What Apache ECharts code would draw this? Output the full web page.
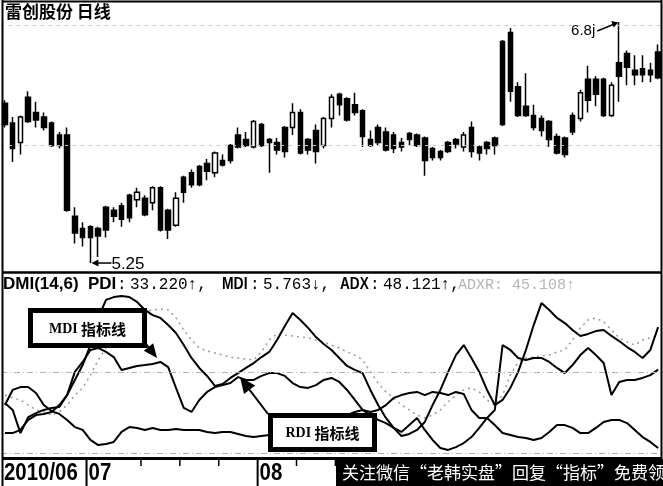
<!DOCTYPE html>
<html><head><meta charset="utf-8">
<script src="https://cdn.jsdelivr.net/npm/echarts@6/dist/echarts.min.js"></script>
<style>html,body{margin:0;padding:0;background:#fff}#c{width:663px;height:486px}</style>
</head><body><div id="c"></div>
<script>
const dates = ['06-11','06-17','06-18','06-21','06-22','06-23','06-24','06-25','06-28','06-29','06-30',
'07-01','07-02','07-05','07-06','07-07','07-08','07-09','07-12','07-13','07-14','07-15','07-16','07-19','07-20','07-21','07-22','07-23','07-26','07-27','07-28','07-29','07-30',
'08-02','08-03','08-04','08-05','08-06','08-09','08-10','08-11','08-12','08-13','08-16','08-17','08-18','08-19','08-20','08-23','08-24','08-25','08-26','08-27','08-30','08-31',
'09-01','09-02','09-03','09-06','09-07','09-08','09-09','09-10','09-13','09-14','09-15','09-16','09-17','09-20','09-21','09-27','09-28','09-29','09-30',
'10-08','10-11','10-12','10-13','10-14','10-15','10-18','10-19','10-20','10-21','10-22'];
const opens = [6.31,6.18,6.05,6.35,6.25,6.22,6.18,6.10,6.10,5.56,5.48,5.49,5.48,5.62,5.60,5.63,5.70,5.67,5.68,5.65,5.75,5.60,5.50,5.82,5.85,5.89,5.91,5.85,5.93,6.03,6.10,6.07,6.02,6.17,6.07,6.05,6.15,6.15,6.25,6.07,6.13,6.03,6.21,6.37,6.34,6.30,6.26,6.07,6.15,6.12,6.10,6.05,6.11,6.10,6.08,6.01,5.99,6.05,6.07,6.02,6.15,6.02,6.05,6.08,6.72,6.78,6.42,6.29,6.23,6.21,6.19,6.09,6.08,6.23,6.21,6.47,6.47,6.47,6.23,6.58,6.64,6.53,6.54,6.53,6.65];
const closes = [6.17,6.01,6.22,6.19,6.20,6.15,6.03,6.03,5.60,5.45,5.42,5.42,5.43,5.47,5.56,5.54,5.55,5.72,5.57,5.75,5.47,5.47,5.68,5.72,5.77,5.77,5.86,5.98,5.90,5.93,6.02,6.03,6.19,6.03,6.05,6.00,5.99,6.25,5.98,6.00,5.99,6.21,6.35,6.30,6.20,6.25,6.09,6.03,6.05,6.00,6.01,6.02,6.07,6.03,5.93,5.95,5.95,5.99,6.04,6.10,5.99,5.98,6.01,6.03,6.17,6.39,6.23,6.23,6.15,6.13,6.07,5.98,5.97,6.12,6.38,6.33,6.37,6.23,6.43,6.49,6.55,6.50,6.50,6.50,6.48];
const lows = [6.15,5.92,5.97,6.18,6.15,6.13,6.02,6.01,5.59,5.38,5.36,5.25,5.29,5.42,5.52,5.49,5.52,5.62,5.56,5.60,5.46,5.41,5.49,5.65,5.75,5.76,5.80,5.82,5.89,5.91,6.01,6.02,6.01,6.02,5.85,5.97,5.95,6.10,5.97,5.97,5.91,6.01,6.15,6.23,6.19,6.23,6.02,6.02,6.03,5.99,5.98,5.99,6.03,6.02,5.83,5.93,5.93,5.98,6.01,5.99,5.95,5.93,5.97,5.97,6.16,6.32,6.22,6.22,6.13,6.09,6.02,5.97,5.95,6.10,6.19,6.25,6.29,6.22,6.22,6.32,6.43,6.43,6.45,6.45,6.47];
const highs = [6.33,6.22,6.23,6.39,6.32,6.25,6.19,6.12,6.15,5.62,5.52,5.50,5.49,5.63,5.62,5.65,5.71,5.75,5.70,5.76,5.76,5.61,5.72,5.83,5.87,5.90,5.94,5.99,5.97,6.04,6.15,6.12,6.20,6.18,6.08,6.08,6.16,6.31,6.27,6.08,6.17,6.22,6.37,6.38,6.35,6.38,6.27,6.13,6.17,6.15,6.12,6.08,6.12,6.11,6.09,6.02,6.00,6.06,6.08,6.12,6.19,6.03,6.06,6.09,6.73,6.81,6.45,6.51,6.30,6.23,6.20,6.11,6.09,6.25,6.40,6.56,6.49,6.48,6.45,6.85,6.66,6.63,6.63,6.58,6.70];
const adx = [21.5,19.1,11.0,16.6,18.0,19.1,19.8,20.1,24.3,29.6,34.8,41.8,51.3,57.6,58.6,59.0,58.6,56.9,54.1,52.3,51.3,48.8,46.0,41.8,37.3,33.8,31.0,27.5,28.2,30.3,32.0,33.8,35.5,37.6,39.4,43.6,48.5,53.0,50.6,47.8,44.6,42.2,40.1,37.3,34.5,33.1,32.0,26.1,20.8,16.3,12.8,10.0,10.7,12.1,14.9,20.8,26.1,32.4,38.3,41.8,37.3,32.4,26.1,20.8,22.6,26.8,32.4,40.1,48.8,56.5,54.1,51.3,49.5,47.1,45.0,45.7,46.7,47.1,45.0,43.2,41.1,39.4,37.3,40.1,48.1];
const pdi = [11.0,11.0,12.1,15.6,17.3,17.7,18.4,20.8,24.3,32.4,35.9,40.1,40.8,39.4,37.6,33.1,33.8,34.5,34.8,35.2,35.9,34.1,26.8,19.8,18.4,22.6,25.4,27.1,27.8,28.5,30.6,29.6,29.6,31.0,32.0,32.0,31.0,28.5,27.1,26.8,27.8,29.6,30.3,28.9,26.1,22.6,19.1,17.3,15.6,14.5,12.8,11.4,13.8,16.3,12.1,8.6,5.8,5.1,6.1,7.5,9.6,12.8,16.3,19.1,41.8,40.1,37.3,36.6,37.3,37.3,35.9,33.8,32.0,34.8,38.3,40.8,38.3,35.5,24.3,28.9,29.6,29.6,30.3,31.3,33.2];
const mdi = [20.8,26.1,27.1,27.1,25.0,20.8,18.7,17.7,15.6,13.1,12.1,8.6,6.8,7.2,7.9,11.4,13.1,12.8,12.1,12.8,12.1,12.1,12.4,12.1,12.1,12.1,11.4,11.0,11.4,11.4,10.7,10.0,9.6,10.0,10.3,9.6,9.3,8.6,9.6,11.0,12.1,13.8,15.6,16.3,17.3,18.4,19.1,18.4,19.1,20.8,23.3,24.3,25.0,25.4,24.3,25.4,25.0,24.3,25.4,24.7,19.1,16.3,16.3,13.8,11.0,10.3,9.6,9.3,8.6,9.3,11.4,13.8,13.8,12.8,11.0,11.0,12.8,14.9,15.6,15.6,14.5,12.1,9.6,7.9,5.8];
const adxr = [24.3,23.3,22.6,20.8,19.1,18.4,17.3,18.4,20.8,24.3,26.8,31.3,36.6,40.8,44.3,47.8,50.6,52.3,53.4,54.1,54.4,54.1,51.3,47.1,43.6,40.8,39.7,39.0,38.3,37.6,37.3,36.9,36.6,39.4,43.6,45.7,45.3,45.0,44.6,44.3,43.6,42.9,41.8,40.8,39.4,38.3,36.6,32.4,28.5,25.4,23.3,20.8,19.1,17.3,16.3,17.3,19.1,21.9,24.3,26.1,26.8,25.4,22.6,20.8,24.3,31.3,35.9,37.3,37.6,38.0,38.3,39.4,40.1,43.6,47.8,50.6,51.3,49.9,47.1,44.3,42.9,41.8,43.6,44.3,45.1];
const priceGridLevels = [6.03, 6.83];
const dmiGridLevels = [32.4, 4.0];
const monthStarts = ['06-11','07-01','08-02','09-01','10-08'];
const monthLabels = ['2010/06','07','08','09','10'];
const weekTicks = ['07-12','07-19','07-26','08-09','08-16','08-23','08-30','09-06','09-13','09-20','09-27','10-11','10-18'];
const titleText = '雷创股份 日线';
const headerParts = [['DMI(14,6)','b',3,1],['PDI','b',88,1],[':','m',117,1],['33.220↑,','m',130,1],['MDI','b',222,0.82],[':','m',250,1],['5.763↓,','m',263,1],['ADX','b',340,0.8],[':','m',370,1],['48.121↑,','m',383,1],['ADXR: 45.108↑','g',458,1]];
const lowLabel = '5.25';
const highLabel = '6.8j';
const watermark = '关注微信“老韩实盘”回复“指标”免费领';

const chart = echarts.init(document.getElementById('c'), null, {renderer:'canvas'});
const candleData = dates.map((d,i)=>[opens[i],closes[i],lows[i],highs[i]]);
const lineS = (data, color, width, type, z) => ({type:'line', xAxisIndex:1, yAxisIndex:1, data, symbol:'none', showSymbol:false, z:z||3,
  lineStyle:{color, width, type:type||'solid'}, emphasis:{disabled:true}, silent:true});
const option = {
  animation:false,
  backgroundColor:'#fff',
  grid:[{left:1,right:1,top:14,height:254},{left:1,right:1,top:292,height:172.5}],
  xAxis:[{type:'category',data:dates,gridIndex:0,show:false},{type:'category',data:dates,gridIndex:1,show:false}],
  yAxis:[{type:'value',gridIndex:0,min:5.217,max:6.903,show:false},{type:'value',gridIndex:1,min:0,max:60.375,show:false}],
  series:[
    {type:'candlestick', xAxisIndex:0, yAxisIndex:0, data:candleData, barWidth:5, silent:true,
     itemStyle:{color:'#fff',color0:'#000',borderColor:'#000',borderColor0:'#000',borderWidth:1.5},
     markLine:{silent:true,symbol:'none',label:{show:false},lineStyle:{color:'#c4c4c4',type:[3,5],width:1},
       data:priceGridLevels.map(v=>({yAxis:v}))}},
    Object.assign(lineS(adxr,'#9a9a9a',1.5,[2,4],2),{markLine:{silent:true,symbol:'none',label:{show:false},
       lineStyle:{color:'#b0b0b0',type:[6,3,1,3],width:1},data:dmiGridLevels.map(v=>({yAxis:v}))}}),
    lineS(adx,'#000',2),
    lineS(pdi,'#000',2),
    lineS(mdi,'#000',2)
  ]
};
chart.setOption(option);

const G = [];
function ln(x1,y1,x2,y2,w,c){G.push({type:'line',z:100,shape:{x1,y1,x2,y2},style:{stroke:c||'#000',lineWidth:w}});}
function tx(x,y,t,size,family,weight,fill,align,sx){G.push({type:'text',z:101,x,y,scaleX:sx||1,style:{text:t,fontSize:size,fontFamily:family,fontWeight:weight||'normal',fill:fill||'#000',align:align||'left',verticalAlign:'middle'}});}
function poly(pts,fill){G.push({type:'polygon',z:101,shape:{points:pts},style:{fill:fill||'#000'}});}
const SANS = '"Liberation Sans",Arial,sans-serif';
const MONO = '"Liberation Mono","DejaVu Sans Mono",monospace';
const CJK = '"Noto Sans CJK SC","Noto Sans",sans-serif';

// frame
ln(2,1.5,662,1.5,2);
ln(2.5,0,2.5,486,2);
ln(661.5,0,661.5,459,2);
ln(2,272.5,662,272.5,2.5);
ln(2,458.5,662,458.5,3);

// title
tx(5,12,titleText,17,CJK,'bold');

// DMI header
headerParts.forEach(([t,k,x,sx])=>{
  if(k==='b') tx(x,284,t,17,SANS,'bold','#000','left',sx);
  else if(k==='m') tx(x,285,t,16,MONO,'normal');
  else tx(x,285,t,15,MONO,'normal','#b5b5b5');
});

// low / high annotations
let li=0, hi=0;
lows.forEach((v,i)=>{ if(v<lows[li]) li=i; });
highs.forEach((v,i)=>{ if(v>highs[hi]) hi=i; });
const pL = chart.convertToPixel({gridIndex:0},[li, lows[li]]);
ln(pL[0]+6,pL[1],pL[0]+21,pL[1],1.5);
poly([[pL[0]+1,pL[1]],[pL[0]+8,pL[1]-3.5],[pL[0]+8,pL[1]+3.5]]);
tx(pL[0]+21,pL[1]+1,lowLabel,17,SANS,'normal');
const pH = chart.convertToPixel({gridIndex:0},[hi, highs[hi]]);
ln(pH[0]-22,pH[1]+9,pH[0]-6,pH[1]+2.5,1.5);
poly([[pH[0]-1,pH[1]+0.5],[pH[0]-8,pH[1]-1],[pH[0]-5.5,pH[1]+5.5]]);
tx(pH[0]-24,pH[1]+9,highLabel,15,SANS,'normal','#000','right');

// callout boxes
function box(x,y,w,h,label){
  G.push({type:'rect',z:102,shape:{x,y,width:w,height:h},style:{fill:'#fff',stroke:'#000',lineWidth:5}});
  G.push({type:'text',z:103,x:x+w/2,y:y+h/2+1,style:{text:'{a|'+label+'} {b|指标线}',align:'center',verticalAlign:'middle',
    rich:{a:{fontFamily:'"Liberation Serif",serif',fontWeight:'bold',fontSize:14,fill:'#000'},b:{fontFamily:CJK,fontWeight:'bold',fontSize:15,fill:'#000'}}}});
}
ln(141,337,149,348,2);
poly([[157,358],[143.8,350.7],[153.2,343.3]]);
box(30.5,310.5,114,35,'MDI');
ln(268,414,249.6,389.8,2);
poly([[240,377],[255.2,385.6],[244,394]]);
box(270.5,415.5,104,34,'RDI');

// bottom time band
const step = chart.convertToPixel({gridIndex:0},[1,6])[0]-chart.convertToPixel({gridIndex:0},[0,6])[0];
weekTicks.forEach(d=>{
  const x = chart.convertToPixel({gridIndex:0},[d,6])[0]-step/2;
  ln(x,460,x,466,1.5);
});
monthStarts.forEach((d,i)=>{
  if(i===0){ tx(4,473,monthLabels[i],24,SANS,'bold','#000','left',0.85); return; }
  const x = chart.convertToPixel({gridIndex:0},[d,6])[0]-step/2;
  ln(x,459,x,486,2);
  tx(x+2,473,monthLabels[i],24,SANS,'bold','#000','left',0.85);
});
G.push({type:'rect',z:110,shape:{x:336,y:459,width:327,height:27},style:{fill:'#000'}});
G.push({type:'text',z:111,x:342,y:473,style:{text:watermark,fontSize:17,fontFamily:CJK,fill:'#fff',align:'left',verticalAlign:'middle'}});

chart.setOption({graphic:{elements:G}});
</script></body></html>
